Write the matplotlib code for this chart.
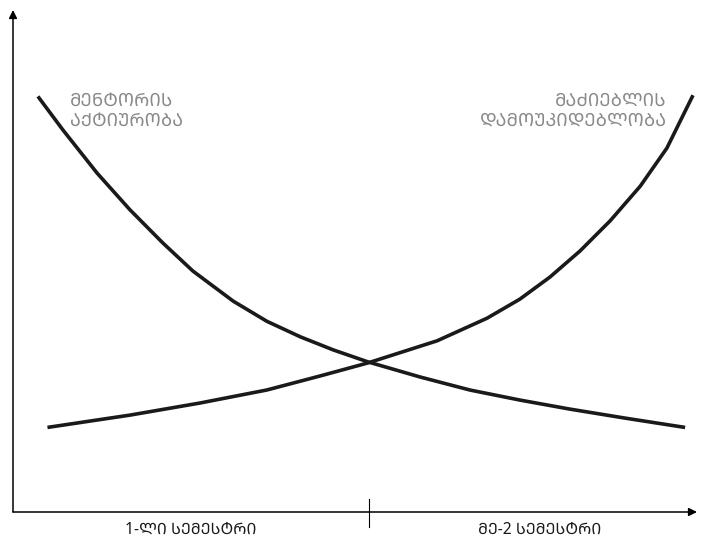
import matplotlib
matplotlib.use("Agg")
import matplotlib.pyplot as plt
from matplotlib import font_manager
from matplotlib.ft2font import FT2Font

# Curve values (x = time, y = level, both 0..10)
mentor_x = [0.38, 0.73, 1.23, 1.71, 2.19, 2.63, 3.22, 3.71, 4.20, 4.68, 5.19, 5.95, 6.68, 7.41, 8.14, 8.95, 9.80]
mentor_y = [8.25, 7.61, 6.75, 6.02, 5.36, 4.80, 4.20, 3.80, 3.49, 3.23, 2.99, 2.69, 2.43, 2.23, 2.05, 1.87, 1.69]

seeker_x = [0.53, 1.71, 2.73, 3.71, 4.49, 5.19, 6.20, 6.93, 7.41, 7.85, 8.29, 8.73, 9.17, 9.56, 9.93]
seeker_y = [1.69, 1.93, 2.17, 2.43, 2.71, 2.97, 3.41, 3.86, 4.24, 4.68, 5.20, 5.80, 6.49, 7.25, 8.27]

semester_split = 5.2
semester_label_x = [2.6, 7.7]
semester_labels = ["1-ლი სემესტრი", "მე-2 სემესტრი"]
mentor_label = "მენტორის\nაქტიურობა"
seeker_label = "მაძიებლის\nდამოუკიდებლობა"

# Reference uses Mtavruli (capital Georgian); use it only if some font has it
def find_mtavruli_font():
    found = []
    for path in sorted(font_manager.findSystemFonts()):
        try:
            if 0x1C9B in FT2Font(path).get_charmap():
                found.append(font_manager.FontProperties(fname=path).get_name())
        except Exception:
            pass
    # prefer a plain sans face
    found.sort(key=lambda n: ("Mono" in n, "Serif" in n, n))
    return found[0] if found else None

mtav = find_mtavruli_font()
if mtav:
    to_upper = {c: c + 0xBC0 for c in range(0x10D0, 0x10F1)}
    semester_labels = [s.translate(to_upper) for s in semester_labels]
    mentor_label = mentor_label.translate(to_upper)
    seeker_label = seeker_label.translate(to_upper)
    families = [mtav, "DejaVu Sans"]
else:
    families = ["DejaVu Sans"]

plt.rcParams["font.family"] = families

fig = plt.figure(figsize=(7.05, 5.39), dpi=100)
ax = fig.add_axes([13 / 705, 27 / 539, 684 / 705, 502 / 539])
ax.set_xlim(0, 10)
ax.set_ylim(0, 10)
ax.axis("off")

# arrow axes
arrow = dict(arrowstyle="-|>", color="black", lw=1.1, mutation_scale=12, shrinkA=0, shrinkB=0)
ax.annotate("", xy=(1, 0), xytext=(0, 0), xycoords="axes fraction", arrowprops=arrow)
ax.annotate("", xy=(0, 1), xytext=(0, 0), xycoords="axes fraction", arrowprops=arrow)

# semester split tick
ax.plot([semester_split, semester_split], [-0.3, 0.26], color="black", lw=0.8, clip_on=False)

ax.plot(mentor_x, mentor_y, color="#1a1a1a", lw=2.6, solid_joinstyle="round")
ax.plot(seeker_x, seeker_y, color="#1a1a1a", lw=2.6, solid_joinstyle="round")

ax.text(0.83, 8.38, mentor_label, color="#8a8a8a", fontsize=13, ha="left", va="top",
        linespacing=1.2)
ax.text(9.56, 8.38, seeker_label, color="#8a8a8a", fontsize=13, ha="right", va="top",
        linespacing=1.2)

for lx, lab in zip(semester_label_x, semester_labels):
    ax.text(lx, -0.36, lab, fontsize=11.3, ha="center", va="center", color="#1a1a1a")

fig.savefig("out.png", dpi=100)
